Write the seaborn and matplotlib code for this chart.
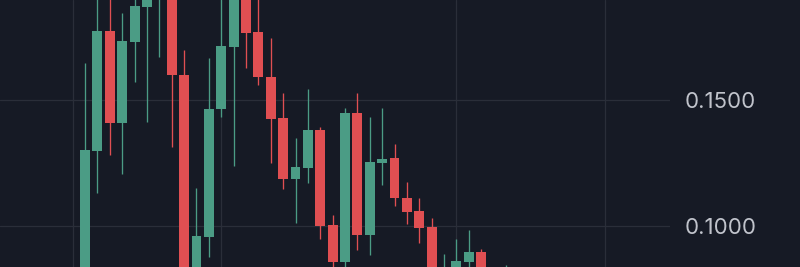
import matplotlib
matplotlib.use("Agg")
import matplotlib.pyplot as plt
import matplotlib.transforms as mtransforms
import seaborn as sns
import pandas as pd
import numpy as np

# ---- data (OHLC) ----
opens = [0.0800, 0.1298, 0.1774, 0.1409, 0.1730, 0.1869, 0.1930, 0.1990, 0.1599, 0.0790,
         0.0956, 0.1464, 0.1710, 0.1950, 0.1770, 0.1591, 0.1429, 0.1187, 0.1230, 0.1381,
         0.1004, 0.0857, 0.1448, 0.0964, 0.1250, 0.1270, 0.1111, 0.1060, 0.0996, 0.0790,
         0.0830, 0.0857, 0.0897, 0.0820, 0.0815]
highs = [0.1647, 0.1930, 0.1950, 0.1845, 0.1960, 0.2000, 0.2030, 0.2040, 0.1698, 0.1151,
         0.1667, 0.1920, 0.1980, 0.2000, 0.1940, 0.1746, 0.1528, 0.1349, 0.1544, 0.1393,
         0.1044, 0.1468, 0.1528, 0.1433, 0.1468, 0.1325, 0.1175, 0.1111, 0.1032, 0.0889,
         0.0948, 0.0984, 0.0909, 0.0830, 0.0845]
lows = [0.0780, 0.1131, 0.1282, 0.1206, 0.1571, 0.1413, 0.1671, 0.1313, 0.0760, 0.0770,
        0.0877, 0.1433, 0.1238, 0.1627, 0.1560, 0.1250, 0.1147, 0.1012, 0.1171, 0.0948,
        0.0830, 0.0820, 0.0905, 0.0885, 0.1163, 0.1079, 0.1008, 0.0933, 0.0800, 0.0780,
        0.0810, 0.0820, 0.0800, 0.0790, 0.0800]
closes = [0.1302, 0.1774, 0.1409, 0.1734, 0.1873, 0.1940, 0.1990, 0.1599, 0.0780, 0.0960,
          0.1464, 0.1714, 0.1930, 0.1766, 0.1591, 0.1425, 0.1187, 0.1234, 0.1381, 0.1000,
          0.0857, 0.1448, 0.0964, 0.1254, 0.1266, 0.1111, 0.1056, 0.0992, 0.0820, 0.0820,
          0.0861, 0.0897, 0.0820, 0.0810, 0.0825]
price_ticks = [0.15, 0.10]
price_labels = ["0.1500", "0.1000"]
time_grid = [-1, 11, 30, 42]

df = pd.DataFrame({"open": opens, "high": highs, "low": lows, "close": closes})
df["idx"] = np.arange(len(df))

BG = "#161a25"
GRID = "#2a2e39"
UP = "#4b9c85"
DOWN = "#e04f52"
TXT = "#c0c3cb"

sns.set_theme(style="dark", rc={"axes.facecolor": BG, "figure.facecolor": BG})
plt.rcParams["font.family"] = ["Inter", "DejaVu Sans"]

fig = plt.figure(figsize=(8, 2.67), dpi=100)
ax = fig.add_axes([0, 0, 670 / 800, 1])
ax.set_facecolor(BG)

for t in price_ticks:
    ax.axhline(t, color=GRID, lw=0.9, zorder=0)
for g in time_grid:
    ax.axvline(g, color=GRID, lw=0.9, zorder=0)

up = df["close"] >= df["open"]
colors = np.where(up, UP, DOWN)
ax.vlines(df["idx"], df["low"], df["high"], colors=colors, lw=0.95, zorder=2)
body_bottom = np.minimum(df["open"], df["close"])
body_height = np.abs(df["close"] - df["open"])
ax.bar(df["idx"], body_height, bottom=body_bottom, width=0.8, color=colors,
       linewidth=0, zorder=3)

ax.set_xlim(-6.87, 47.25)
ax.set_ylim(0.0837, 0.1897)
ax.set_xticks([])
ax.set_yticks([])
for s in ax.spines.values():
    s.set_visible(False)
ax.grid(False)

trans = mtransforms.blended_transform_factory(fig.transFigure, ax.transData)
trans = trans + mtransforms.ScaledTranslation(0, -2 / 100, fig.dpi_scale_trans)
for t, lab in zip(price_ticks, price_labels):
    fig.text(685 / 800, t, lab, transform=trans, ha="left", va="center",
             color=TXT, fontsize=16)

fig.savefig("out.png", dpi=100, facecolor=BG)
